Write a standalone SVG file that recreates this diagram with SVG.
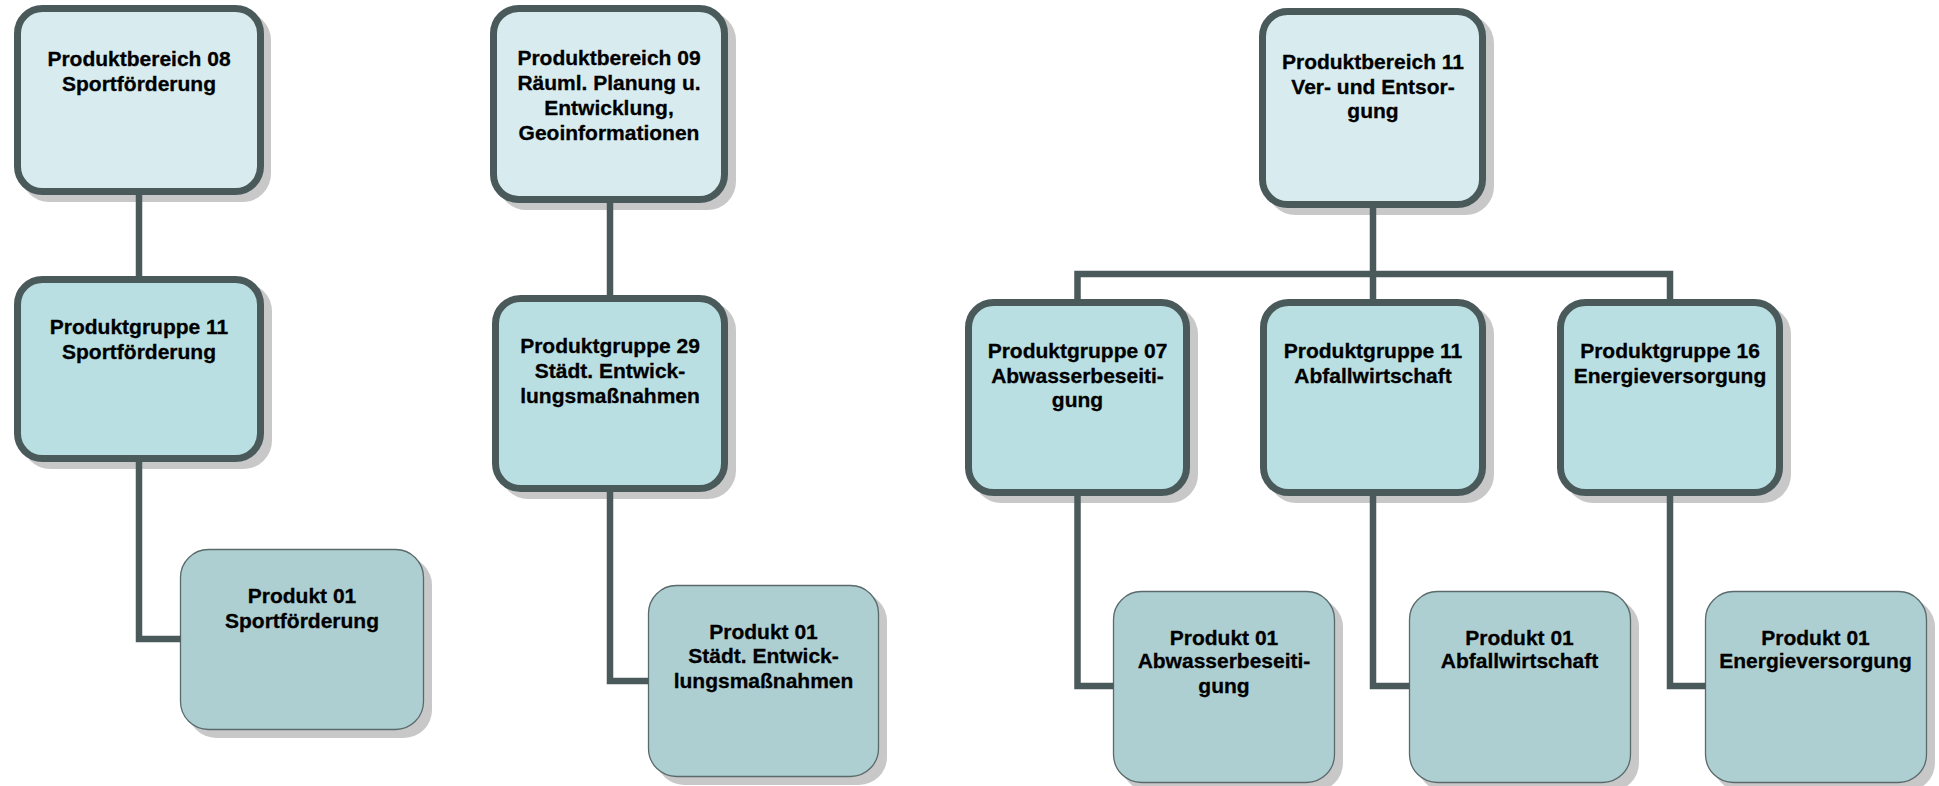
<svg xmlns="http://www.w3.org/2000/svg" width="1939" height="786" viewBox="0 0 1939 786">
<style>
.sh{fill:#C8C8C8;stroke:#C8C8C8;stroke-width:7}
.shp{fill:#C8C8C8}
.pb{fill:#D8ECEF;stroke:#4A5A5B;stroke-width:7}
.pg{fill:#BADFE2;stroke:#4A5A5B;stroke-width:7}
.pr{fill:#AECFD2;stroke:#5A6A6B;stroke-width:1.3}
.c{fill:none;stroke:#4A5A5B;stroke-width:6.5}
text{font-family:"Liberation Sans",Arial,sans-serif;font-weight:bold;font-size:21px;fill:#000;stroke:#000;stroke-width:0.3;text-anchor:middle}
</style>
<rect width="1939" height="786" fill="#FFFFFF"/>

<g id="pb08">
<rect class="sh" x="24.5" y="15.5" width="243" height="183" rx="25"/>
<rect class="pb" x="17.5" y="8.5" width="243" height="183" rx="25"/>
<text x="139" y="66">Produktbereich 08</text>
<text x="139" y="90.5">Sportförderung</text>
</g>
<g id="pg11a">
<rect class="sh" x="25.5" y="286.5" width="243" height="179" rx="25"/>
<rect class="pg" x="17.5" y="279.5" width="243" height="179" rx="25"/>
<text x="139" y="334">Produktgruppe 11</text>
<text x="139" y="359">Sportförderung</text>
</g>
<g id="p01a">
<rect class="shp" x="188" y="557" width="244" height="181" rx="28"/>
<rect class="pr" x="180.5" y="549.5" width="243" height="180" rx="28"/>
<text x="302" y="603">Produkt 01</text>
<text x="302" y="628">Sportförderung</text>
</g>

<g id="pb09">
<rect class="sh" x="501.5" y="15.5" width="231" height="191" rx="25"/>
<rect class="pb" x="493.5" y="8.5" width="231" height="191" rx="25"/>
<text x="609" y="65">Produktbereich 09</text>
<text x="609" y="90">Räuml. Planung u.</text>
<text x="609" y="115">Entwicklung,</text>
<text x="609" y="140">Geoinformationen</text>
</g>
<g id="pg29">
<rect class="sh" x="503.5" y="305.5" width="229" height="190" rx="25"/>
<rect class="pg" x="495.5" y="298.5" width="229" height="190" rx="25"/>
<text x="610" y="353">Produktgruppe 29</text>
<text x="610" y="378">Städt. Entwick-</text>
<text x="610" y="403">lungsmaßnahmen</text>
</g>
<g id="p01b">
<rect class="shp" x="656" y="593" width="231" height="192" rx="28"/>
<rect class="pr" x="648.5" y="585.5" width="230" height="191" rx="28"/>
<text x="763.5" y="639">Produkt 01</text>
<text x="763.5" y="663">Städt. Entwick-</text>
<text x="763.5" y="688">lungsmaßnahmen</text>
</g>

<g id="pb11">
<rect class="sh" x="1270.5" y="18.5" width="220" height="193" rx="25"/>
<rect class="pb" x="1262.5" y="11.5" width="220" height="193" rx="25"/>
<text x="1373" y="69">Produktbereich 11</text>
<text x="1373" y="94">Ver- und Entsor-</text>
<text x="1373" y="118">gung</text>
</g>
<g id="pg07">
<rect class="sh" x="976.5" y="309.5" width="218" height="190" rx="25"/>
<rect class="pg" x="968.5" y="302.5" width="218" height="190" rx="25"/>
<text x="1077.5" y="358">Produktgruppe 07</text>
<text x="1077.5" y="383">Abwasserbeseiti-</text>
<text x="1077.5" y="407">gung</text>
</g>
<g id="pg11b">
<rect class="sh" x="1271.5" y="309.5" width="219" height="190" rx="25"/>
<rect class="pg" x="1263.5" y="302.5" width="219" height="190" rx="25"/>
<text x="1373" y="358">Produktgruppe 11</text>
<text x="1373" y="383">Abfallwirtschaft</text>
</g>
<g id="pg16">
<rect class="sh" x="1568.5" y="309.5" width="219" height="190" rx="25"/>
<rect class="pg" x="1560.5" y="302.5" width="219" height="190" rx="25"/>
<text x="1670" y="358">Produktgruppe 16</text>
<text x="1670" y="383">Energieversorgung</text>
</g>
<g id="p01c">
<rect class="shp" x="1121" y="599" width="222" height="192" rx="28"/>
<rect class="pr" x="1113.5" y="591.5" width="221" height="191" rx="28"/>
<text x="1224" y="645">Produkt 01</text>
<text x="1224" y="668">Abwasserbeseiti-</text>
<text x="1224" y="693">gung</text>
</g>
<g id="p01d">
<rect class="shp" x="1417" y="599" width="222" height="192" rx="28"/>
<rect class="pr" x="1409.5" y="591.5" width="221" height="191" rx="28"/>
<text x="1519.5" y="645">Produkt 01</text>
<text x="1519.5" y="668">Abfallwirtschaft</text>
</g>
<g id="p01e">
<rect class="shp" x="1713" y="599" width="222" height="192" rx="28"/>
<rect class="pr" x="1705.5" y="591.5" width="221" height="191" rx="28"/>
<text x="1815.5" y="645">Produkt 01</text>
<text x="1815.5" y="668">Energieversorgung</text>
</g>

<g id="connectors">
<path class="c" d="M139,195 V276"/>
<path class="c" d="M139,462 V639 H180.5"/>
<path class="c" d="M610,203 V295"/>
<path class="c" d="M610,492 V681 H648.5"/>
<path class="c" d="M1373,208 V299"/>
<path class="c" d="M1077.5,299 V274 H1670 V299"/>
<path class="c" d="M1077.5,496 V686 H1113.5"/>
<path class="c" d="M1373,496 V686 H1409.5"/>
<path class="c" d="M1670,496 V686 H1705.5"/>
</g>
</svg>
